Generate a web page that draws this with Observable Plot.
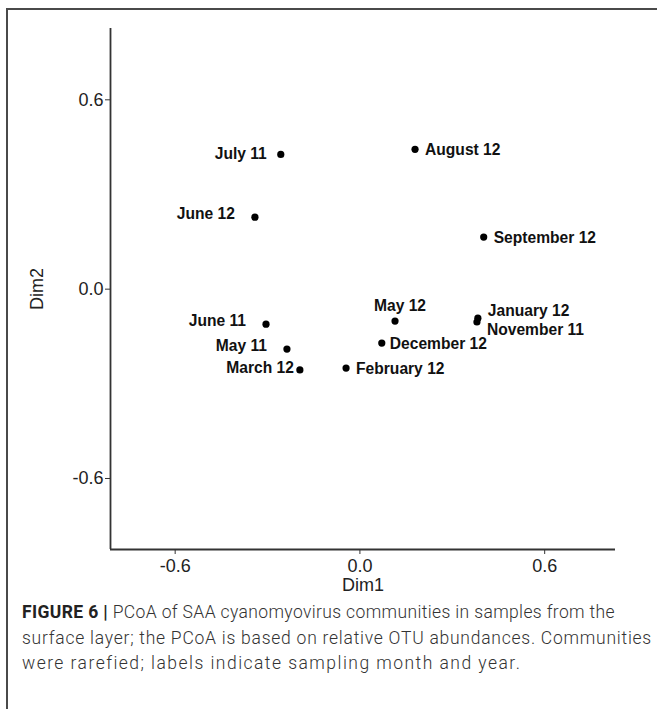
<!DOCTYPE html>
<html><head><meta charset="utf-8">
<script src="https://cdn.jsdelivr.net/npm/d3@7"></script>
<script src="https://cdn.jsdelivr.net/npm/@observablehq/plot@0.6"></script>
<style>
body{margin:0;background:#fff;font-family:"Liberation Sans",Arial,sans-serif;width:657px;height:709px;overflow:hidden;position:relative;}
#frame{position:absolute;left:6px;top:8px;width:720px;height:760px;border-top:2px solid #4a4a4a;border-left:2px solid #4a4a4a;}
#chart{position:absolute;left:0;top:0;}
#caption{position:absolute;left:22px;top:600px;font-family:Roboto,"Liberation Sans",sans-serif;font-weight:300;font-size:17.5px;line-height:25.5px;color:#333;white-space:nowrap;}
#caption .ln{display:block;}
#caption .ln span{display:inline-block;}
#caption b{color:#222;font-weight:700;}
</style></head><body>
<div id="frame"></div>
<div id="chart"></div>
<div id="caption"></div>
<script>
const samples = ["July 11","August 12","June 12","September 12","May 12","January 12","November 11","June 11","December 12","May 11","March 12","February 12"];
const dim1 = [-0.257, 0.179, -0.341, 0.402, 0.114, 0.383, 0.380, -0.305, 0.071, -0.237, -0.195, -0.045];
const dim2 = [0.427, 0.443, 0.228, 0.165, -0.101, -0.092, -0.104, -0.111, -0.171, -0.190, -0.256, -0.250];
const labelSide = ["left-close","right","left","right","above","right-up","right-down","left","right-near","left","left-touch","right"];
const xTicks = [-0.6, 0.0, 0.6];
const yTicks = [-0.6, 0.0, 0.6];
const xDomain = [-0.81, 0.83];
const yDomain = [-0.825, 0.826];
const captionTitle = "FIGURE 6 |";
const captionLines = [
  " PCoA of SAA cyanomyovirus communities in samples from the",
  "surface layer; the PCoA is based on relative OTU abundances. Communities",
  "were rarefied; labels indicate sampling month and year."
];
const captionLineWidths = [593, 630, 499];

const data = samples.map((s, i) => ({sample: s, dim1: dim1[i], dim2: dim2[i], side: labelSide[i]}));

const sideStyle = {
  "left": {dx: -20, dy: -3, textAnchor: "end"},
  "left-close": {dx: -14, dy: 0, textAnchor: "end"},
  "left-touch": {dx: -6, dy: -2, textAnchor: "end"},
  "right": {dx: 10, dy: 1, textAnchor: "start"},
  "right-near": {dx: 8, dy: 1, textAnchor: "start"},
  "above": {dx: 5, dy: -15, textAnchor: "middle"},
  "right-up": {dx: 10, dy: -7, textAnchor: "start"},
  "right-down": {dx: 10, dy: 8, textAnchor: "start"}
};

const labelMarks = Object.entries(sideStyle).map(([side, st]) =>
  Plot.text(data.filter(d => d.side === side), {
    x: "dim1", y: "dim2", text: "sample",
    dx: st.dx, dy: st.dy, textAnchor: st.textAnchor,
    fontSize: 15.6, fontWeight: "bold", fill: "#111"
  })
);

const fmt = d => d.toFixed(1);

const chart = Plot.plot({
  width: 657,
  height: 600,
  marginLeft: 110,
  marginRight: 42,
  marginTop: 28,
  marginBottom: 51,
  style: {fontFamily: "'Liberation Sans', Arial, sans-serif", fontSize: "17.5px", color: "#222", background: "transparent"},
  x: {domain: xDomain},
  y: {domain: yDomain},
  marks: [
    Plot.ruleX([xDomain[0]], {stroke: "#333", strokeWidth: 1.8}),
    Plot.ruleY([yDomain[0]], {stroke: "#333", strokeWidth: 1.8}),
    Plot.axisX({ticks: xTicks, tickFormat: fmt, tickSize: 5, tickPadding: 5, fontSize: 18, stroke: "#333",
      label: "Dim1", labelAnchor: "center", labelArrow: "none", labelOffset: 41}),
    Plot.axisY({ticks: yTicks, tickFormat: fmt, tickSize: 5, tickPadding: 2, fontSize: 18, stroke: "#333",
      label: "Dim2", labelAnchor: "center", labelArrow: "none", labelOffset: 80}),
    Plot.dot(data, {x: "dim1", y: "dim2", r: 3.6, fill: "#000", stroke: "none"}),
    ...labelMarks
  ]
});
document.getElementById("chart").appendChild(chart);

// caption, each line fitted to the reference line length
const cap = document.getElementById("caption");
captionLines.forEach((txt, i) => {
  const ln = document.createElement("div");
  ln.className = "ln";
  const sp = document.createElement("span");
  if (i === 0) {
    const b = document.createElement("b");
    b.textContent = captionTitle;
    sp.appendChild(b);
  }
  sp.appendChild(document.createTextNode(txt));
  ln.appendChild(sp);
  cap.appendChild(ln);
  const w = sp.getBoundingClientRect().width;
  const n = (i === 0 ? captionTitle.length : 0) + txt.length;
  sp.style.letterSpacing = ((captionLineWidths[i] - w) / n) + "px";
});
</script>
</body></html>
